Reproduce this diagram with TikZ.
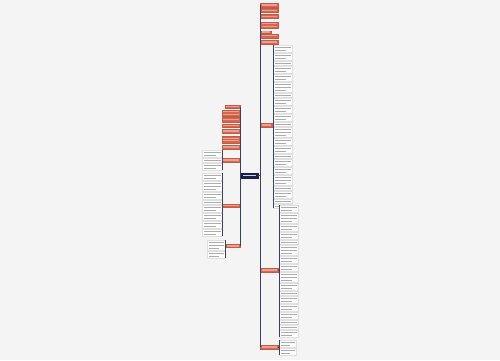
\documentclass[tikz,border=0pt]{standalone}
\usepackage{tikz}
\usetikzlibrary{positioning,calc}
\definecolor{bgcol}{HTML}{F4F4F4}
\definecolor{topicred}{HTML}{D9664F}
\definecolor{rootblue}{HTML}{18204D}
\definecolor{linkgray}{HTML}{3C4060}
\newcommand\pxl{0.02cm}
\tikzset{
  branch/.style={draw=topicred!90!black, fill=topicred, line width=0.15pt, inner sep=0pt},
  root/.style={draw=rootblue, fill=rootblue, inner sep=0pt},
  leaf/.style={draw=gray!25, fill=white, line width=0.2pt, inner sep=0pt, anchor=north west},
  link/.style={draw=linkgray, line width=0.45pt},
  redline/.style={draw=white!38!topicred, line width=0.6pt},
  rootline/.style={draw=white!80!rootblue, line width=0.6pt},
  greyline/.style={draw=gray!65, line width=0.5pt}
}
% one column of small text boxes: name, left x, top y, width, heights
\newcommand\leafcolumn[5]{%
  \foreach \h [count=\i, evaluate=\h as \ny using \cy+\h+1, remember=\ny as \cy (initially #3)] in {#5} {
    \node[leaf, minimum width=#4*\pxl, minimum height=\h*\pxl] (#1\i) at (#2,\cy) {};
    \pgfmathtruncatemacro\nl{(\h-1)/3}
    \foreach \k in {1,...,\nl} {
      \pgfmathsetmacro\rx{(\k==\nl)*(\nl>1)*5+1.5}
      \draw[greyline] (#2+1.5,\cy+3*\k-1) -- (#2+#4-\rx,\cy+3*\k-1);
    }
  }}
\begin{document}
\begin{tikzpicture}[x=0.02cm,y=-0.02cm]

        \fill[bgcol] (0,0) rectangle (500,360);
        \useasboundingbox (0,0) rectangle (500,360);

        % centre
        \node[root, minimum width=17*\pxl, minimum height=4.5*\pxl] (root) at (249.5,175.8) {};
        \draw[rootline] ([xshift=1.5pt]root.west) -- ([xshift=-1.5pt]root.east);

        % right branches
        \node[branch, anchor=west, minimum width=18*\pxl, minimum height=4*\pxl] (R1) at (260,5) {};
        \node[branch, anchor=west, minimum width=18*\pxl, minimum height=4*\pxl] (R2) at (260,10.5) {};
        \node[branch, anchor=west, minimum width=18*\pxl, minimum height=4*\pxl] (R3) at (260,16.5) {};
        \node[branch, anchor=west, minimum width=18*\pxl, minimum height=6.5*\pxl] (R4) at (260,25) {};
        \node[branch, anchor=west, minimum width=11*\pxl, minimum height=2.5*\pxl] (R5) at (260,32) {};
        \node[branch, anchor=west, minimum width=18*\pxl, minimum height=4*\pxl] (R6) at (260,35.7) {};
        \node[branch, anchor=west, minimum width=18*\pxl, minimum height=4.5*\pxl] (R7) at (260,42) {};
        \node[branch, anchor=west, minimum width=12.5*\pxl, minimum height=3.5*\pxl] (RB) at (260,125) {};
        \node[branch, anchor=west, minimum width=18*\pxl, minimum height=3.5*\pxl] (RC) at (260,270) {};
        \node[branch, anchor=west, minimum width=18*\pxl, minimum height=3.5*\pxl] (RD) at (260,347) {};

        % left branches
        \node[branch, anchor=east, minimum width=15*\pxl, minimum height=3.5*\pxl] (L1) at (240,106.5) {};
        \node[branch, anchor=east, minimum width=18*\pxl, minimum height=6*\pxl] (L2) at (240,113) {};
        \node[branch, anchor=east, minimum width=18*\pxl, minimum height=5*\pxl] (L3) at (240,119.5) {};
        \node[branch, anchor=east, minimum width=18*\pxl, minimum height=3.5*\pxl] (L4) at (240,125.5) {};
        \node[branch, anchor=east, minimum width=18*\pxl, minimum height=4*\pxl] (L5) at (240,131) {};
        \node[branch, anchor=east, minimum width=18*\pxl, minimum height=7*\pxl] (L6) at (240,139.5) {};
        \node[branch, anchor=east, minimum width=18*\pxl, minimum height=4*\pxl] (L7) at (240,147) {};
        \node[branch, anchor=east, minimum width=18*\pxl, minimum height=3.5*\pxl] (LE) at (240,160) {};
        \node[branch, anchor=east, minimum width=18*\pxl, minimum height=3*\pxl] (LF) at (240,205.5) {};
        \node[branch, anchor=east, minimum width=14*\pxl, minimum height=3*\pxl] (LG) at (240,246) {};

        % text stripes in the red boxes
        \foreach \n/\k in {R1/1,R2/1,R3/1,R4/2,R5/1,R6/1,R7/1,RB/1,RC/1,RD/1,
                           L1/1,L2/2,L3/1,L4/1,L5/1,L6/2,L7/1,LE/1,LF/1,LG/1}
          \foreach \i in {1,...,\k}
            \draw[redline] ($(\n.north west)!{\i/(\k+1)}!(\n.south west)+(1.5,0)$)
                        -- ($(\n.north east)!{\i/(\k+1)}!(\n.south east)+(-1.5,0)$);

        % text boxes
        \leafcolumn{B}{273}{45}{19}{7,7,4,7,7,10,4,7,7,7,4,10,7,7,4,7,7,10,4,7,4,4}
        \leafcolumn{C}{279}{205}{19}{7,10,7,7,4,10,7,7,10,7,4,7,7,7,4,4,7}
        \leafcolumn{D}{279}{340}{17}{7,7}
        \leafcolumn{E}{202}{150}{20}{7,4,7}
        \leafcolumn{F}{202}{173}{20}{7,10,7,4,7,7,7,7}
        \leafcolumn{G}{207}{240}{18}{10,7}

        % trunks
        \draw[link] (root.east) -- (root.east -| R1.west);
        \draw[link] (R1.west) -- (R1.west |- RD.west);
        \draw[link] (root.west) -- (root.west -| L1.east);
        \draw[link] (L1.east) -- (L1.east |- LG.east);

        % brackets
        \draw[link] (RB.east) -- (RB.east -| B1.west);
        \draw[link] (B1.north west) -- (B22.south west);
        \draw[link] (RC.east) -- (RC.east -| C1.west);
        \draw[link] (C1.north west) -- (C17.south west);
        \draw[link] (RD.east) -- (RD.east -| D1.west);
        \draw[link] (D1.north west) -- (D2.south west);
        \draw[link] (LE.west) -- (LE.west -| E1.east);
        \draw[link] (E1.north east) -- (E3.south east);
        \draw[link] (LF.west) -- (LF.west -| F1.east);
        \draw[link] (F1.north east) -- (F8.south east);
        \draw[link] (LG.west) -- (LG.west -| G1.east);
        \draw[link] (G1.north east) -- (G2.south east);

    \end{tikzpicture}
\end{document}
